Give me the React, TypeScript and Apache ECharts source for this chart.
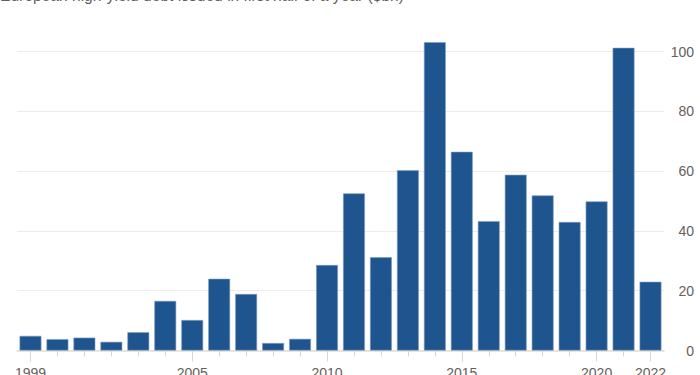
import React, { useEffect, useRef } from "react";
import * as echarts from "echarts";

const years = [
  "1999", "2000", "2001", "2002", "2003", "2004", "2005", "2006",
  "2007", "2008", "2009", "2010", "2011", "2012", "2013", "2014",
  "2015", "2016", "2017", "2018", "2019", "2020", "2021", "2022",
];
const issuance = [
  4.9, 3.8, 4.3, 2.9, 6.1, 16.6, 10.2, 24.0,
  18.9, 2.5, 3.9, 28.6, 52.6, 31.2, 60.3, 103.2,
  66.5, 43.3, 58.8, 51.9, 43.0, 49.9, 101.3, 23.0,
];
const labelledYears = ["1999", "2005", "2010", "2015", "2020", "2022"];
const yMin = 0;
const yMax = 100;
const yStep = 20;
const title = "European high-yield debt issued in first half of a year ($bn)";

const FONT = "'Liberation Sans', Arial, sans-serif";
const TEXT = "#66605c";

export default function App() {
  const ref = useRef<HTMLDivElement>(null);
  useEffect(() => {
    if (!ref.current) return;
    const chart = echarts.init(ref.current, undefined, { renderer: "svg" });
    const isMajor = (i: number) => labelledYears.includes(years[i]);
    chart.setOption({
      animation: false,
      backgroundColor: "#ffffff",
      graphic: [
        {
          type: "text",
          left: 0,
          top: -13,
          style: {
            text: title,
            font: `15.6px ${FONT}`,
            fill: TEXT,
          },
        },
      ],
      grid: {
        left: 17,
        right: 36,
        top: 51.7,
        bottom: 24.5,
        containLabel: false,
        outerBoundsMode: "none",
      },
      xAxis: [
        {
          type: "category",
          data: years,
          position: "bottom",
          boundaryGap: true,
          axisLine: { show: true, lineStyle: { color: "#e2ddd7", width: 1.5 } },
          axisTick: { show: true, alignWithLabel: true, interval: 0, length: 6, lineStyle: { color: "#dcd6cf" } },
          axisLabel: { show: false },
          splitLine: { show: false },
        },
        {
          type: "category",
          data: years,
          position: "bottom",
          boundaryGap: true,
          axisLine: { show: false },
          axisTick: {
            show: true,
            alignWithLabel: true,
            interval: (i: number) => isMajor(i),
            length: 11,
            lineStyle: { color: "#dcd6cf" },
          },
          axisLabel: {
            show: true,
            interval: (i: number) => isMajor(i),
            margin: 15,
            fontSize: 14,
            fontFamily: FONT,
            color: TEXT,
          },
          splitLine: { show: false },
        },
      ],
      yAxis: {
        type: "value",
        position: "right",
        min: yMin,
        max: yMax,
        interval: yStep,
        axisLine: { show: false },
        axisTick: { show: false },
        axisLabel: {
          align: "right",
          margin: 30,
          fontSize: 14,
          fontFamily: FONT,
          color: TEXT,
        },
        splitLine: { lineStyle: { color: "#efece8", width: 1 } },
      },
      series: [
        {
          type: "bar",
          xAxisIndex: 0,
          data: issuance,
          clip: false,
          barCategoryGap: "19%",
          itemStyle: { color: "#1f558e", borderColor: "#7d9cc2", borderWidth: 0.6 },
        },
      ],
    });
    return () => chart.dispose();
  }, []);
  return (
    <div
      ref={ref}
      style={{ position: "fixed", left: 0, top: 0, width: 700, height: 375, background: "#fff" }}
    />
  );
}
